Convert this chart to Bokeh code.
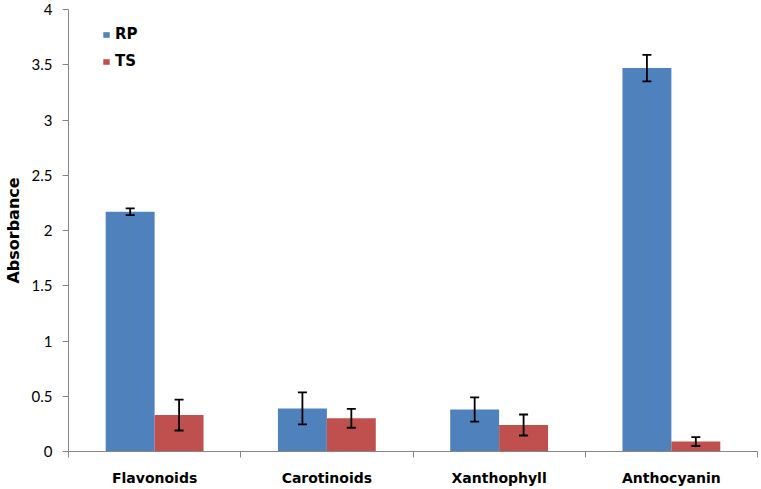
from bokeh.plotting import figure
from bokeh.models import Range1d, FixedTicker, Whisker, TeeHead, ColumnDataSource, Legend, LegendItem
from bokeh.embed import file_html
from bokeh.resources import INLINE

categories = ["Flavonoids", "Carotinoids", "Xanthophyll", "Anthocyanin"]
rp_values = [2.17, 0.39, 0.38, 3.47]
rp_errors = [0.03, 0.145, 0.11, 0.12]
ts_values = [0.33, 0.30, 0.24, 0.09]
ts_errors = [0.14, 0.085, 0.095, 0.04]
y_ticks = [0, 0.5, 1, 1.5, 2, 2.5, 3, 3.5, 4]
y_tick_labels = ["0", "0.5", "1", "1.5", "2", "2.5", "3", "3.5", "4"]

BLUE = "#4F81BD"
RED = "#C0504D"
AXIS = "#868686"
bar_w = 0.284

n = len(categories)
centers = [i + 0.5 for i in range(n)]
rp_x = [c - bar_w / 2 for c in centers]
ts_x = [c + bar_w / 2 for c in centers]

src_rp = ColumnDataSource(dict(x=rp_x, top=rp_values,
                               lo=[v - e for v, e in zip(rp_values, rp_errors)],
                               hi=[v + e for v, e in zip(rp_values, rp_errors)]))
src_ts = ColumnDataSource(dict(x=ts_x, top=ts_values,
                               lo=[v - e for v, e in zip(ts_values, ts_errors)],
                               hi=[v + e for v, e in zip(ts_values, ts_errors)]))

p = figure(width=759, height=488, output_backend="svg", toolbar_location=None,
           x_range=Range1d(0, n), y_range=Range1d(0, 4),
           min_border_left=68, min_border_right=2, min_border_top=9, min_border_bottom=37)
p.grid.visible = False
p.outline_line_color = None
p.background_fill_color = "white"
p.border_fill_color = "white"

r_rp = p.vbar(x="x", top="top", width=bar_w, bottom=0, source=src_rp,
              fill_color=BLUE, line_color=None)
r_ts = p.vbar(x="x", top="top", width=bar_w, bottom=0, source=src_ts,
              fill_color=RED, line_color=None)

for src in (src_rp, src_ts):
    w = Whisker(base="x", lower="lo", upper="hi", source=src, level="overlay",
                line_color="black", line_width=1.8,
                upper_head=TeeHead(size=9, line_color="black", line_width=1.8),
                lower_head=TeeHead(size=9, line_color="black", line_width=1.8))
    p.add_layout(w)

# x axis
p.xaxis.ticker = FixedTicker(ticks=centers, minor_ticks=list(range(n + 1)))
p.xaxis.major_label_overrides = {c: cat for c, cat in zip(centers, categories)}
p.xaxis.major_tick_out = 0
p.xaxis.major_tick_in = 0
p.xaxis.minor_tick_out = 6
p.xaxis.minor_tick_in = 0
p.xaxis.minor_tick_line_color = AXIS
p.xaxis.axis_line_color = AXIS
p.xaxis.major_label_text_font = "DejaVu Sans"
p.xaxis.major_label_text_font_style = "bold"
p.xaxis.major_label_text_font_size = "14px"
p.xaxis.major_label_text_color = "black"
p.xaxis.major_label_standoff = 12

# y axis
p.yaxis.ticker = FixedTicker(ticks=y_ticks, minor_ticks=[])
p.yaxis.major_label_overrides = {t: l for t, l in zip(y_ticks, y_tick_labels)}
p.yaxis.major_tick_out = 6
p.yaxis.major_tick_in = 0
p.yaxis.major_tick_line_color = AXIS
p.yaxis.axis_line_color = AXIS
p.yaxis.major_label_text_font = "Lato"
p.yaxis.major_label_text_font_size = "15px"
p.yaxis.major_label_text_color = "black"
p.yaxis.major_label_standoff = 10
p.yaxis.axis_label = "Absorbance"
p.yaxis.axis_label_text_font = "DejaVu Sans"
p.yaxis.axis_label_text_font_style = "bold"
p.yaxis.axis_label_text_font_size = "16px"
p.yaxis.axis_label_text_color = "black"
p.yaxis.axis_label_standoff = 6

legend = Legend(items=[LegendItem(label="RP", renderers=[r_rp]),
                       LegendItem(label="TS", renderers=[r_ts])],
                location=(34, 380), orientation="vertical",
                glyph_width=8, glyph_height=7, label_height=20, spacing=7,
                padding=0, margin=0, label_standoff=5,
                border_line_color=None, background_fill_alpha=0,
                label_text_font="DejaVu Sans", label_text_font_style="bold",
                label_text_font_size="15px", label_text_color="black")
p.add_layout(legend)

open("out.html", "w").write(file_html(p, INLINE))
